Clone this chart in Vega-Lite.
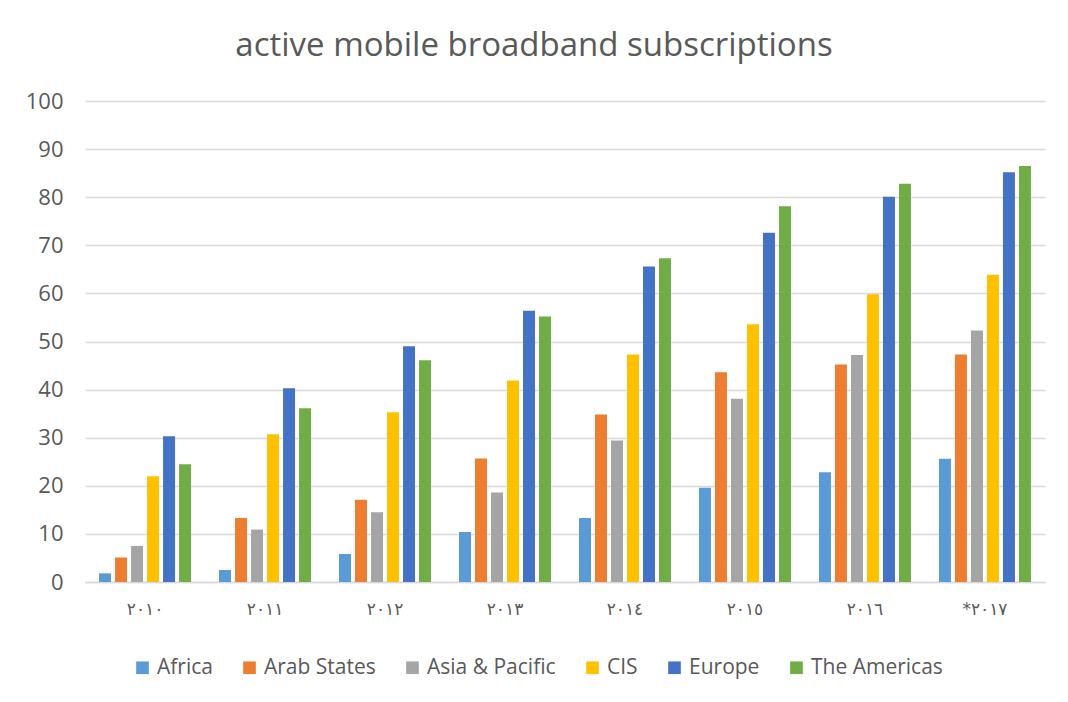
{
  "$schema": "https://vega.github.io/schema/vega-lite/v6.json",
  "width": 960,
  "height": 481,
  "padding": {"left": 25, "right": 20, "top": 30, "bottom": 10},
  "background": "white",
  "title": {
    "text": "active mobile broadband subscriptions",
    "font": "Open Sans",
    "fontSize": 33,
    "fontWeight": "normal",
    "color": "#595959",
    "anchor": "middle",
    "dx": -31,
    "offset": 27
  },
  "data": {
    "values": [
      {"year": "٢٠١٠", "region": "Africa", "value": 1.8},
      {"year": "٢٠١٠", "region": "Arab States", "value": 5.1},
      {"year": "٢٠١٠", "region": "Asia & Pacific", "value": 7.5},
      {"year": "٢٠١٠", "region": "CIS", "value": 22.0},
      {"year": "٢٠١٠", "region": "Europe", "value": 30.3},
      {"year": "٢٠١٠", "region": "The Americas", "value": 24.5},
      {"year": "٢٠١١", "region": "Africa", "value": 2.5},
      {"year": "٢٠١١", "region": "Arab States", "value": 13.3},
      {"year": "٢٠١١", "region": "Asia & Pacific", "value": 10.9},
      {"year": "٢٠١١", "region": "CIS", "value": 30.7},
      {"year": "٢٠١١", "region": "Europe", "value": 40.3},
      {"year": "٢٠١١", "region": "The Americas", "value": 36.1},
      {"year": "٢٠١٢", "region": "Africa", "value": 5.8},
      {"year": "٢٠١٢", "region": "Arab States", "value": 17.1},
      {"year": "٢٠١٢", "region": "Asia & Pacific", "value": 14.5},
      {"year": "٢٠١٢", "region": "CIS", "value": 35.3},
      {"year": "٢٠١٢", "region": "Europe", "value": 49.0},
      {"year": "٢٠١٢", "region": "The Americas", "value": 46.1},
      {"year": "٢٠١٣", "region": "Africa", "value": 10.4},
      {"year": "٢٠١٣", "region": "Arab States", "value": 25.7},
      {"year": "٢٠١٣", "region": "Asia & Pacific", "value": 18.6},
      {"year": "٢٠١٣", "region": "CIS", "value": 41.9},
      {"year": "٢٠١٣", "region": "Europe", "value": 56.4},
      {"year": "٢٠١٣", "region": "The Americas", "value": 55.2},
      {"year": "٢٠١٤", "region": "Africa", "value": 13.3},
      {"year": "٢٠١٤", "region": "Arab States", "value": 34.8},
      {"year": "٢٠١٤", "region": "Asia & Pacific", "value": 29.4},
      {"year": "٢٠١٤", "region": "CIS", "value": 47.3},
      {"year": "٢٠١٤", "region": "Europe", "value": 65.6},
      {"year": "٢٠١٤", "region": "The Americas", "value": 67.3},
      {"year": "٢٠١٥", "region": "Africa", "value": 19.6},
      {"year": "٢٠١٥", "region": "Arab States", "value": 43.6},
      {"year": "٢٠١٥", "region": "Asia & Pacific", "value": 38.1},
      {"year": "٢٠١٥", "region": "CIS", "value": 53.6},
      {"year": "٢٠١٥", "region": "Europe", "value": 72.6},
      {"year": "٢٠١٥", "region": "The Americas", "value": 78.1},
      {"year": "٢٠١٦", "region": "Africa", "value": 22.8},
      {"year": "٢٠١٦", "region": "Arab States", "value": 45.2},
      {"year": "٢٠١٦", "region": "Asia & Pacific", "value": 47.2},
      {"year": "٢٠١٦", "region": "CIS", "value": 59.8},
      {"year": "٢٠١٦", "region": "Europe", "value": 80.1},
      {"year": "٢٠١٦", "region": "The Americas", "value": 82.8},
      {"year": "*٢٠١٧", "region": "Africa", "value": 25.6},
      {"year": "*٢٠١٧", "region": "Arab States", "value": 47.3},
      {"year": "*٢٠١٧", "region": "Asia & Pacific", "value": 52.3},
      {"year": "*٢٠١٧", "region": "CIS", "value": 63.9},
      {"year": "*٢٠١٧", "region": "Europe", "value": 85.2},
      {"year": "*٢٠١٧", "region": "The Americas", "value": 86.5}
    ]
  },
  "mark": {"type": "bar"},
  "encoding": {
    "x": {
      "field": "year",
      "type": "nominal",
      "sort": null,
      "title": null,
      "scale": {"paddingInner": 0.233, "paddingOuter": 0.117},
      "axis": {
        "labelAngle": 0,
        "labelFont": "DejaVu Sans",
        "labelFontSize": 17,
        "labelColor": "#595959",
        "labelPadding": 19,
        "ticks": false,
        "domainColor": "#d9d9d9",
        "domainWidth": 1.5,
        "grid": false
      }
    },
    "xOffset": {
      "field": "region",
      "type": "nominal",
      "sort": null,
      "scale": {"paddingInner": 0.25, "paddingOuter": 0}
    },
    "y": {
      "field": "value",
      "type": "quantitative",
      "title": null,
      "scale": {"domain": [0, 100]},
      "axis": {
        "values": [0, 10, 20, 30, 40, 50, 60, 70, 80, 90, 100],
        "labelFont": "Open Sans",
        "labelFontSize": 22,
        "labelColor": "#595959",
        "labelPadding": 22,
        "minExtent": 60,
        "maxExtent": 60,
        "ticks": false,
        "domain": false,
        "gridColor": "#d9d9d9",
        "gridWidth": 1.3
      }
    },
    "color": {
      "field": "region",
      "type": "nominal",
      "sort": null,
      "scale": {
        "domain": ["Africa", "Arab States", "Asia & Pacific", "CIS", "Europe", "The Americas"],
        "range": ["#5b9bd5", "#ed7d31", "#a5a5a5", "#ffc000", "#4472c4", "#70ad47"]
      },
      "legend": {
        "title": null,
        "orient": "none",
        "legendX": 47,
        "legendY": 556,
        "padding": 0,
        "direction": "horizontal",
        "symbolType": "square",
        "symbolSize": 160,
        "symbolStrokeWidth": 0,
        "symbolOffset": 0,
        "labelOffset": 4,
        "labelFont": "Open Sans",
        "labelFontSize": 21,
        "labelColor": "#595959",
        "columnPadding": 26
      }
    }
  },
  "config": {
    "view": {"stroke": null}
  }
}
